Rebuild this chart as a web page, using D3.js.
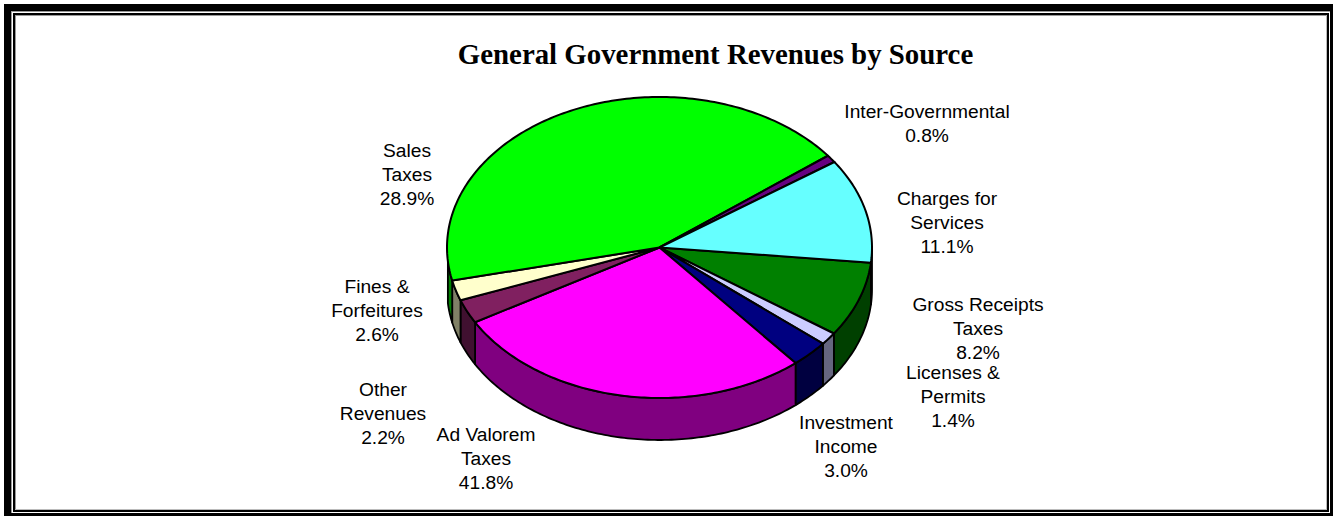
<!DOCTYPE html>
<html>
<head>
<meta charset="utf-8">
<script src="https://cdn.jsdelivr.net/npm/d3@7"></script>
<style>
  html, body { margin: 0; padding: 0; background: #fff; }
  svg { display: block; }
</style>
</head>
<body>
<svg id="chart" width="1337" height="517"></svg>
<script>
// Revenue shares, listed clockwise round the disc starting at the Charges for Services edge.
const sliceNames = ["Gross Receipts Taxes", "Licenses & Permits", "Investment Income", "Sales Taxes",
                    "Fines & Forfeitures", "Other Revenues", "Ad Valorem Taxes", "Inter-Governmental", "Charges for Services"];
const sliceValues = [8.2, 1.4, 3.0, 28.9, 2.6, 2.2, 41.8, 0.8, 11.1];
const topColors  = ["#008000", "#ccccff", "#000080", "#ff00ff", "#802060", "#ffffcc", "#00ff00", "#660080", "#66ffff"];
const wallColors = ["#004000", "#666680", "#000040", "#800080", "#401030", "#808066", "#008000", "#330040", "#338080"];

// Captions, each kept at its printed place beside the disc.
const labelLines = [
  ["Inter-Governmental", "0.8%"],
  ["Charges for", "Services", "11.1%"],
  ["Gross Receipts", "Taxes", "8.2%"],
  ["Licenses &", "Permits", "1.4%"],
  ["Investment", "Income", "3.0%"],
  ["Ad Valorem", "Taxes", "41.8%"],
  ["Other", "Revenues", "2.2%"],
  ["Fines &", "Forfeitures", "2.6%"],
  ["Sales", "Taxes", "28.9%"]
];
const labelCentres = [[927, 111], [947, 198], [978, 304], [953, 372], [846, 422], [486, 434], [383, 389], [377, 286], [407, 150]];
const labelLineGap = 24.4;

const titleText = "General Government Revenues by Source";

const svg = d3.select("#chart");

// Frame: heavy outer rule, thin inner rule, each with a soft grey edge.
const frame = svg.append("g");
function frameBar(x, y, w, h, fill) {
  frame.append("rect").attr("x", x).attr("y", y).attr("width", w).attr("height", h).attr("fill", fill);
}
frameBar(11, 11, 1, 502, "#999");
frameBar(11, 11, 1319, 1, "#999");
frameBar(15, 15, 1, 495, "#999");
frameBar(15, 15, 1311, 1, "#999");
frameBar(1326, 15, 1, 495, "#bbb");
frameBar(15, 509, 1312, 1, "#bbb");
frameBar(4, 4, 1329, 7, "#000");
frameBar(4, 4, 7, 512, "#000");
frameBar(1330, 4, 3, 512, "#000");
frameBar(4, 513, 1329, 3, "#000");
frameBar(13, 13, 1316, 2, "#000");
frameBar(13, 13, 2, 499, "#000");
frameBar(1327, 13, 2, 499, "#000");
frameBar(13, 510, 1316, 2, "#000");

svg.append("text")
  .attr("x", 715.5).attr("y", 64)
  .attr("text-anchor", "middle")
  .attr("font-family", "'Liberation Serif', serif")
  .attr("font-weight", "bold")
  .attr("font-size", 28.85)
  .text(titleText);

// Tilted disc geometry.
const centre = { x: 659.5, y: 247.5 };
const radiusX = 212.5, radiusY = 150.5, depth = 42;
const startDeg = 354.2;

const pie = d3.pie().value(d => d).sort(null)
  .startAngle(0).endAngle(2 * Math.PI);
const arcs = pie(sliceValues);

// Angles run clockwise on screen measured from the east; the far-left side of the
// disc is foreshortened by the tilt, which swings it a few degrees further round.
const TAU = 2 * Math.PI;
const toScreen = a => {
  const deg = (360 - startDeg) + a * 180 / Math.PI;
  return deg * Math.PI / 180;
};
const swing = t => t - (2.6 * Math.PI / 180) * (1 - Math.cos(t));
const xOf = d3.scaleLinear().domain([-1, 1]).range([centre.x - radiusX, centre.x + radiusX]);
const yOf = d3.scaleLinear().domain([-1, 1]).range([centre.y - radiusY, centre.y + radiusY]);
const rim = (t, drop = 0) => {
  const s = swing(t);
  return [xOf(Math.cos(s)), yOf(Math.sin(s)) + drop];
};
const samples = (a, b) => d3.range(0, 1.0001, 1 / Math.max(2, Math.ceil((b - a) * 60))).map(u => a + (b - a) * u);
const outline = d3.line();

// Side walls exist only on the near half of the rim.
const walls = svg.append("g");
arcs.forEach((d, i) => {
  const a = toScreen(d.startAngle), b = toScreen(d.endAngle);
  const spans = [[a, b], [a + TAU, b + TAU], [a - TAU, b - TAU]];
  spans.forEach(([p, q]) => {
    const lo = Math.max(p, 0), hi = Math.min(q, Math.PI);
    if (hi <= lo) return;
    const ts = samples(lo, hi);
    const pts = ts.map(t => rim(t)).concat(ts.slice().reverse().map(t => rim(t, depth)));
    walls.append("path")
      .attr("d", outline(pts) + "Z")
      .attr("fill", wallColors[i])
      .attr("stroke", "#000").attr("stroke-width", 1.8).attr("stroke-linejoin", "round");
  });
});

// Top face of every slice.
const faces = svg.append("g");
arcs.forEach((d, i) => {
  const ts = samples(toScreen(d.startAngle), toScreen(d.endAngle));
  const pts = [[centre.x, centre.y]].concat(ts.map(t => rim(t)));
  faces.append("path")
    .datum(sliceNames[i])
    .attr("d", outline(pts) + "Z")
    .attr("fill", topColors[i])
    .attr("stroke", "#000").attr("stroke-width", 2).attr("stroke-linejoin", "round");
});

// Captions.
const captions = svg.append("g")
  .attr("font-family", "'Liberation Sans', Arial, sans-serif")
  .attr("font-size", 19.2)
  .attr("text-anchor", "middle");
labelLines.forEach((lines, i) => {
  const [cx, cy] = labelCentres[i];
  lines.forEach((line, k) => {
    captions.append("text")
      .attr("x", cx)
      .attr("y", cy + k * labelLineGap + 6.5)
      .text(line);
  });
});
</script>
</body>
</html>
